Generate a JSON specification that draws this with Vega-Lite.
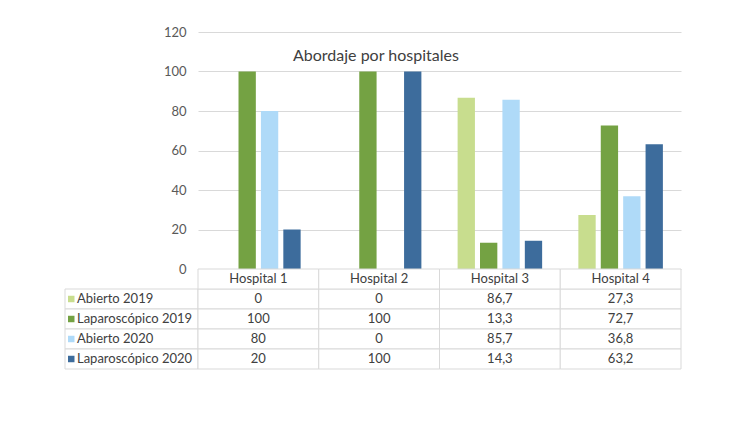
{
  "$schema": "https://vega.github.io/schema/vega-lite/v6.json",
  "padding": {"left": 64, "top": 26, "right": 5, "bottom": 5},
  "config": {
    "view": {"stroke": null},
    "font": "Lato",
    "locale": {"number": {"decimal": ",", "thousands": ".", "grouping": [3], "currency": ["", " €"]}}
  },
  "datasets": {
    "d": [
      {"hospital": "Hospital 1", "series": "Abierto 2019", "value": 0},
      {"hospital": "Hospital 1", "series": "Laparoscópico 2019", "value": 100},
      {"hospital": "Hospital 1", "series": "Abierto 2020", "value": 80},
      {"hospital": "Hospital 1", "series": "Laparoscópico 2020", "value": 20},
      {"hospital": "Hospital 2", "series": "Abierto 2019", "value": 0},
      {"hospital": "Hospital 2", "series": "Laparoscópico 2019", "value": 100},
      {"hospital": "Hospital 2", "series": "Abierto 2020", "value": 0},
      {"hospital": "Hospital 2", "series": "Laparoscópico 2020", "value": 100},
      {"hospital": "Hospital 3", "series": "Abierto 2019", "value": 86.7},
      {"hospital": "Hospital 3", "series": "Laparoscópico 2019", "value": 13.3},
      {"hospital": "Hospital 3", "series": "Abierto 2020", "value": 85.7},
      {"hospital": "Hospital 3", "series": "Laparoscópico 2020", "value": 14.3},
      {"hospital": "Hospital 4", "series": "Abierto 2019", "value": 27.3},
      {"hospital": "Hospital 4", "series": "Laparoscópico 2019", "value": 72.7},
      {"hospital": "Hospital 4", "series": "Abierto 2020", "value": 36.8},
      {"hospital": "Hospital 4", "series": "Laparoscópico 2020", "value": 63.2}
    ]
  },
  "data": {"name": "d"},
  "spacing": 0,
  "bounds": "flush",
  "resolve": {"scale": {"x": "independent", "y": "independent"}},
  "hconcat": [
    {
      "width": 133,
      "height": 337,
      "transform": [{"filter": "datum.hospital == 'Hospital 1'"}],
      "encoding": {
        "y": {"field": "series", "type": "nominal", "scale": {"domain": ["hdr", "Abierto 2019", "Laparoscópico 2019", "Abierto 2020", "Laparoscópico 2020"], "range": [237, 337], "paddingInner": 0, "paddingOuter": 0}, "axis": null}
      },
      "layer": [
        {
          "mark": {"type": "rect", "fill": "white", "stroke": "#d9d9d9", "strokeWidth": 1},
          "encoding": {
            "x": {"datum": 0, "type": "quantitative", "scale": {"domain": [0, 1]}, "axis": null},
            "x2": {"datum": 1}
          }
        },
        {
          "mark": {"type": "point", "shape": "square", "filled": true, "size": 42, "opacity": 1},
          "encoding": {
            "x": {"datum": 0.047, "type": "quantitative"},
            "color": {"field": "series", "type": "nominal", "scale": {"domain": ["Abierto 2019", "Laparoscópico 2019", "Abierto 2020", "Laparoscópico 2020"], "range": ["#c8dd8e", "#74a243", "#afdaf8", "#3d6c9c"]}, "legend": null}
          }
        },
        {
          "mark": {"type": "text", "align": "left", "fontSize": 13, "color": "#404040"},
          "encoding": {
            "x": {"datum": 0.09, "type": "quantitative"},
            "text": {"field": "series", "type": "nominal"}
          }
        }
      ]
    },
    {
      "spacing": 0,
      "bounds": "flush",
      "resolve": {"scale": {"x": "independent", "y": "independent"}},
      "vconcat": [
        {
          "width": 483,
          "height": 237,
          "title": {"text": "Abordaje por hospitales", "frame": "group", "anchor": "start", "dx": 95, "dy": 42, "fontSize": 16, "fontWeight": "normal", "color": "#404040", "font": "Lato"},
          "mark": {"type": "bar"},
          "encoding": {
            "x": {"field": "hospital", "type": "nominal", "sort": null, "axis": null, "scale": {"paddingInner": 0.3, "paddingOuter": 0.15}},
            "xOffset": {"field": "series", "type": "nominal", "sort": ["Abierto 2019", "Laparoscópico 2019", "Abierto 2020", "Laparoscópico 2020"], "scale": {"paddingInner": 0.227, "paddingOuter": 0}},
            "y": {"field": "value", "type": "quantitative", "scale": {"domain": [0, 120]},
              "axis": {"values": [0, 20, 40, 60, 80, 100, 120], "title": null, "domain": false, "ticks": false, "labelPadding": 12, "labelFontSize": 13, "labelColor": "#595959", "gridColor": "#d9d9d9"}},
            "color": {"field": "series", "type": "nominal", "scale": {"domain": ["Abierto 2019", "Laparoscópico 2019", "Abierto 2020", "Laparoscópico 2020"], "range": ["#c8dd8e", "#74a243", "#afdaf8", "#3d6c9c"]}, "legend": null}
          }
        },
        {
          "width": 483,
          "height": 100,
          "layer": [
            {
              "mark": {"type": "rect", "fill": "white", "stroke": "#d9d9d9", "strokeWidth": 1},
              "encoding": {
                "x": {"field": "hospital", "type": "nominal", "sort": null, "scale": {"paddingInner": 0, "paddingOuter": 0}, "axis": null},
                "y": {"field": "series", "type": "nominal", "scale": {"domain": ["hdr", "Abierto 2019", "Laparoscópico 2019", "Abierto 2020", "Laparoscópico 2020"], "paddingInner": 0, "paddingOuter": 0}, "axis": null}
              }
            },
            {
              "mark": {"type": "text", "fontSize": 13, "color": "#404040"},
              "encoding": {
                "x": {"field": "hospital", "type": "nominal", "sort": null},
                "y": {"field": "series", "type": "nominal"},
                "text": {"field": "value", "type": "quantitative", "format": ".1~f"}
              }
            },
            {
              "transform": [{"filter": "datum.series == 'Abierto 2019'"}],
              "mark": {"type": "rect", "fill": "white", "stroke": "#d9d9d9", "strokeWidth": 1},
              "encoding": {
                "x": {"field": "hospital", "type": "nominal", "sort": null},
                "y": {"datum": "hdr", "type": "nominal"}
              }
            },
            {
              "transform": [{"filter": "datum.series == 'Abierto 2019'"}],
              "mark": {"type": "text", "fontSize": 13, "color": "#404040"},
              "encoding": {
                "x": {"field": "hospital", "type": "nominal", "sort": null},
                "y": {"datum": "hdr", "type": "nominal"},
                "text": {"field": "hospital", "type": "nominal"}
              }
            }
          ]
        }
      ]
    }
  ]
}
